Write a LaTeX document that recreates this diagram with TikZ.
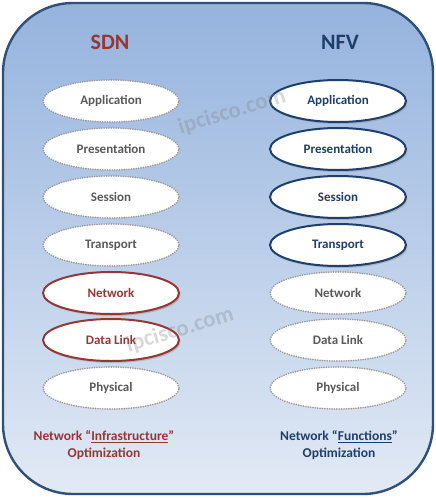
\documentclass[tikz,border=0pt]{standalone}
\usepackage{fontspec}
\setmainfont{Carlito}
\usetikzlibrary{shapes.geometric,shadows,calc}
\definecolor{bgtop}{HTML}{95B3DE}
\definecolor{bgbot}{HTML}{E2EAF5}
\definecolor{frame}{HTML}{2F5079}
\definecolor{sdnred}{HTML}{953735}
\definecolor{nfvblue}{HTML}{1F3F6B}
\definecolor{grayborder}{HTML}{999999}
\definecolor{graytext}{HTML}{595959}
\tikzset{
  layer/.style={ellipse, minimum width=136pt, minimum height=42pt, inner sep=0pt,
    fill=white, font=\bfseries\fontsize{13}{15}\selectfont},
  dotlayer/.style={layer, draw=grayborder, line width=1.8pt, dash pattern=on 0.1pt off 2.3pt,
    line cap=round, text=graytext},
  redlayer/.style={layer, draw=sdnred, line width=2pt, text=sdnred,
    drop shadow={shadow xshift=1.5pt, shadow yshift=-2pt, opacity=0.35}},
  bluelayer/.style={layer, draw=nfvblue, line width=2pt, text=nfvblue,
    drop shadow={shadow xshift=1.5pt, shadow yshift=-2pt, opacity=0.35}},
  title/.style={font=\bfseries\fontsize{22}{24}\selectfont},
  foot/.style={font=\bfseries\fontsize{13.5}{16.5}\selectfont, align=center},
  wm/.style={font=\bfseries\fontsize{23}{25}\selectfont, text=gray, opacity=0.3, rotate=17}
}
\begin{document}
\begin{tikzpicture}[x=1pt,y=-1pt]
\useasboundingbox (0,0) rectangle (436,498);
\shade[top color=bgtop, bottom color=bgbot, rounded corners=70pt]
  (3,3) rectangle (433,494);
\draw[frame, line width=2.4pt, rounded corners=70pt] (3,3) rectangle (433,494);

\node[title, text=sdnred] (sdn) at (110,42) {SDN};
\node[title, text=nfvblue] (nfv) at (340,42) {NFV};

\node[dotlayer] (l1) at (111,101) {Application};
\node[dotlayer] (l2) at (111,149) {Presentation};
\node[dotlayer] (l3) at (111,197) {Session};
\node[dotlayer] (l4) at (111,245) {Transport};
\node[redlayer] (l5) at (111,293) {Network};
\node[redlayer] (l6) at (111,340) {Data Link};
\node[dotlayer] (l7) at (111,388) {Physical};

\node[bluelayer] (r1) at (338,101) {Application};
\node[bluelayer] (r2) at (338,149) {Presentation};
\node[bluelayer] (r3) at (338,197) {Session};
\node[bluelayer] (r4) at (338,245) {Transport};
\node[dotlayer] (r5) at (338,293) {Network};
\node[dotlayer] (r6) at (338,340) {Data Link};
\node[dotlayer] (r7) at (338,388) {Physical};

\node[foot, text=sdnred] (fl) at (104,445) {Network “\underline{Infrastructure}”\\Optimization};
\node[foot, text=nfvblue] (fr) at (339,445) {Network “\underline{Functions}”\\Optimization};

\node[wm] (w1) at (232,112) {ipcisco.com};
\node[wm] (w2) at (180,330) {ipcisco.com};
\end{tikzpicture}
\end{document}
